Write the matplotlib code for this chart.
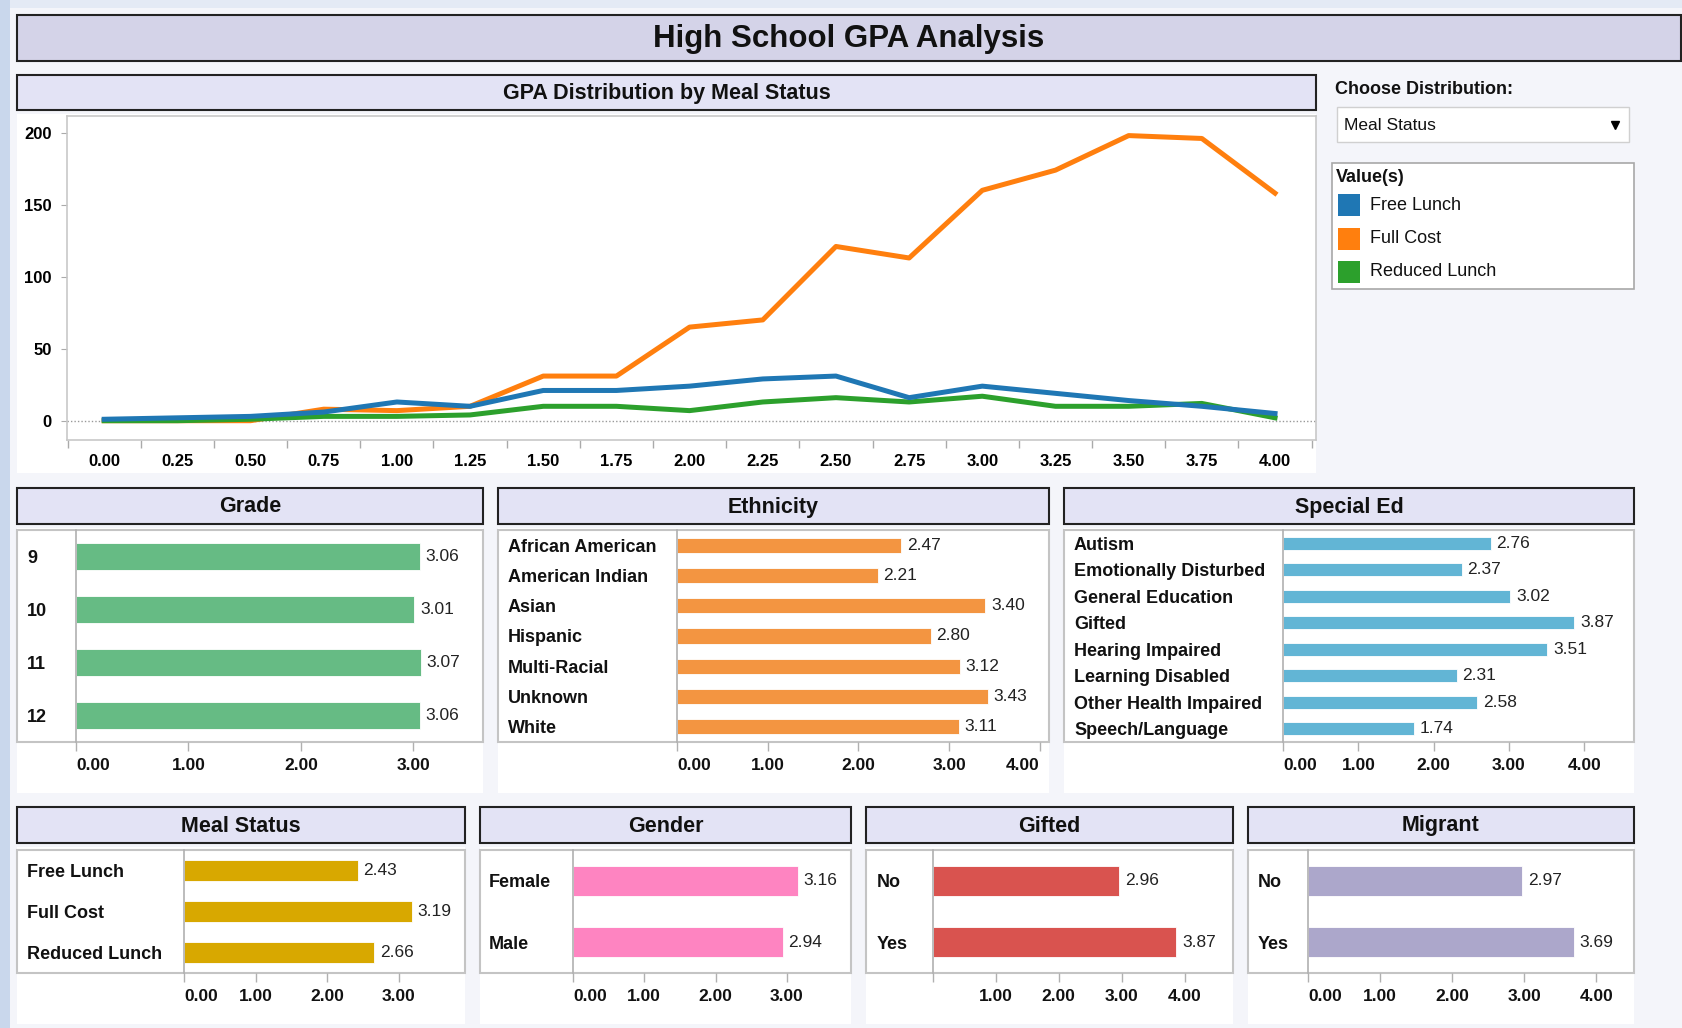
import matplotlib
matplotlib.use('Agg')
import matplotlib.pyplot as plt
from matplotlib.patches import Rectangle

plt.rcParams['font.family'] = ['Liberation Sans', 'DejaVu Sans']

W, H = 1683, 1028

# GPA distribution (counts of students per GPA bin)
gpa_bins = [0.00, 0.25, 0.50, 0.75, 1.00, 1.25, 1.50, 1.75, 2.00,
            2.25, 2.50, 2.75, 3.00, 3.25, 3.50, 3.75, 4.00]
free_lunch = [1, 2, 3, 6, 13, 10, 21, 21, 24, 29, 31, 16, 24, 19, 14, 10, 5]
full_cost = [0, 0, 0, 8, 7, 10, 31, 31, 65, 70, 121, 113, 160, 174, 198, 196, 158]
reduced_lunch = [0, 0, 1, 3, 3, 4, 10, 10, 7, 13, 16, 13, 17, 10, 10, 12, 2]
series_names = ['Free Lunch', 'Full Cost', 'Reduced Lunch']
series_colors = ['#1f77b4', '#ff7f0e', '#2ca02c']

# average GPA by group
grade_cats = ['9', '10', '11', '12']
grade_gpa = [3.06, 3.01, 3.07, 3.06]
eth_cats = ['African American', 'American Indian', 'Asian', 'Hispanic',
            'Multi-Racial', 'Unknown', 'White']
eth_gpa = [2.47, 2.21, 3.40, 2.80, 3.12, 3.43, 3.11]
sped_cats = ['Autism', 'Emotionally Disturbed', 'General Education', 'Gifted',
             'Hearing Impaired', 'Learning Disabled', 'Other Health Impaired',
             'Speech/Language']
sped_gpa = [2.76, 2.37, 3.02, 3.87, 3.51, 2.31, 2.58, 1.74]
meal_cats = ['Free Lunch', 'Full Cost', 'Reduced Lunch']
meal_gpa = [2.43, 3.19, 2.66]
gender_cats = ['Female', 'Male']
gender_gpa = [3.16, 2.94]
gifted_cats = ['No', 'Yes']
gifted_gpa = [2.96, 3.87]
migrant_cats = ['No', 'Yes']
migrant_gpa = [2.97, 3.69]

fig = plt.figure(figsize=(W / 100, H / 100), dpi=100, facecolor='#f4f5fa')
bg = fig.add_axes([0, 0, 1, 1])
bg.set_xlim(0, W)
bg.set_ylim(H, 0)
bg.axis('off')


def px_axes(x0, y0, x1, y1):
    return fig.add_axes([x0 / W, 1 - y1 / H, (x1 - x0) / W, (y1 - y0) / H])


def box(x0, y0, x1, y1, fc, ec='none', lw=0, z=1):
    bg.add_patch(Rectangle((x0, y0), x1 - x0, y1 - y0, facecolor=fc,
                           edgecolor=ec, linewidth=lw, zorder=z))


def header(x0, y0, x1, y1, text, fc='#e3e3f5', size=15.5):
    box(x0, y0, x1, y1, fc, '#222222', 1.5)
    bg.text((x0 + x1) / 2, (y0 + y1) / 2 + 1, text, ha='center', va='center',
            fontsize=size, fontweight='bold', color='#111111', zorder=3)


# window edges
box(0, 0, 10, H, '#c9d7ec')
box(10, 0, W, 8, '#e4eaf5')

header(17, 15, 1681, 61, 'High School GPA Analysis', fc='#d4d3e8', size=22.5)

# ---- line chart ----
box(17, 114, 1316, 473, 'white')
header(17, 75, 1316, 110, 'GPA Distribution by Meal Status')
ax = px_axes(67, 116, 1316, 440)
ax.set_facecolor('white')
ax.axhline(0, color='#999999', lw=1, ls=(0, (1, 1.5)), zorder=1)
ax.plot(gpa_bins, full_cost, color=series_colors[1], lw=3.6, zorder=3)
ax.plot(gpa_bins, reduced_lunch, color=series_colors[2], lw=3.6, zorder=3)
ax.plot(gpa_bins, free_lunch, color=series_colors[0], lw=3.6, zorder=4)
ax.set_xlim(-0.127, 4.14)
ax.set_ylim(-13.4, 211.6)
ax.set_xticks(gpa_bins)
ax.set_xticklabels([f'{b:.2f}' for b in gpa_bins], fontsize=12, fontweight='bold')
ax.set_xticks([b - 0.125 for b in gpa_bins] + [gpa_bins[-1] + 0.125], minor=True)
ax.tick_params(axis='x', which='major', length=0, pad=10)
ax.tick_params(axis='x', which='minor', length=6, color='#aaaaaa', width=1)
ax.set_yticks([0, 50, 100, 150, 200])
ax.set_yticklabels(['0', '50', '100', '150', '200'], fontsize=12, fontweight='bold')
ax.tick_params(axis='y', length=4, color='#aaaaaa', pad=7)
for s in ax.spines.values():
    s.set_color('#c8c8c8')
    s.set_linewidth(1.2)

# ---- selector and legend ----
bg.text(1335, 90, 'Choose Distribution:', fontsize=13, fontweight='bold',
        va='center', color='#111111')
box(1337, 107, 1629, 142, 'white', '#d0d0d0', 1)
bg.text(1344, 125, 'Meal Status', fontsize=12.5, va='center', color='#111111', zorder=3)
bg.plot([1615], [125], marker='v', color='black', ms=6, zorder=3)
box(1332, 163, 1634, 289, 'white', '#a8a8a8', 1.2)
bg.text(1336, 177, 'Value(s)', fontsize=13, fontweight='bold', va='center',
        color='#111111', zorder=3)
for i, (name, col) in enumerate(zip(series_names, series_colors)):
    yc = 205 + i * 33.5
    box(1338, yc - 11, 1360, yc + 11, col, z=3)
    bg.text(1370, yc, name, fontsize=13, va='center', color='#111111', zorder=3)

# ---- bar panels ----
row2 = dict(head=(488, 524), panel=(528, 793), plot=(530, 742))
row3 = dict(head=(807, 843), panel=(847, 1024), plot=(850, 973))


def bar_panel(name, cats, vals, color, row, x0, x1, label_x, plot_x0, xmax,
              ticks, bar_h=0.5, hide_zero=False, last_right=False):
    p0, p1 = row['panel']
    y0, y1 = row['plot']
    box(x0, p0, x1, p1, 'white')
    header(x0, row['head'][0], x1, row['head'][1], name)
    box(x0, y0, x1, y1, 'none', '#c4c4c4', 1.5, z=2)
    a = px_axes(plot_x0, y0, x1, y1)
    a.set_facecolor('none')
    n = len(cats)
    a.barh(range(n), vals, height=bar_h, color=color, edgecolor='white',
           linewidth=0.6, zorder=2)
    for i, v in enumerate(vals):
        a.annotate(f'{v:.2f}', (v, i), xytext=(4, 0), textcoords='offset points',
                   va='center', ha='left', fontsize=12.5, color='#222222')
    a.set_xlim(0, xmax)
    a.set_ylim(n - 0.5, -0.5)
    for k in ['top', 'right', 'bottom']:
        a.spines[k].set_visible(False)
    a.spines['left'].set_color('#b0b0b0')
    a.spines['left'].set_linewidth(1.2)
    a.set_yticks(range(n))
    a.set_yticklabels(cats, fontsize=13, fontweight='bold', ha='left', color='#111111')
    a.tick_params(axis='y', length=0, pad=(plot_x0 - label_x) * 0.72)
    a.set_xticks(ticks)
    labels = [f'{t:.2f}' for t in ticks]
    if hide_zero:
        labels[0] = ''
    a.set_xticklabels(labels, fontsize=12.5, fontweight='bold', color='#111111')
    a.tick_params(axis='x', direction='out', length=6.5, color='#b0b0b0',
                  width=1, pad=5)
    tl = a.get_xticklabels()
    if not hide_zero:
        tl[0].set_horizontalalignment('left')
    if last_right:
        tl[-1].set_horizontalalignment('right')
    return a


bar_panel('Grade', grade_cats, grade_gpa, '#66bb84', row2, 17, 483, 27, 76,
          3.62, [0, 1, 2, 3], bar_h=0.5)
bar_panel('Ethnicity', eth_cats, eth_gpa, '#f39541', row2, 498, 1049, 508, 677,
          4.10, [0, 1, 2, 3, 4], bar_h=0.5, last_right=True)
bar_panel('Special Ed', sped_cats, sped_gpa, '#62b5d5', row2, 1064, 1634, 1074,
          1283, 4.66, [0, 1, 2, 3, 4], bar_h=0.48)
bar_panel('Meal Status', meal_cats, meal_gpa, '#d8a800', row3, 17, 465, 27, 184,
          3.93, [0, 1, 2, 3], bar_h=0.5)
bar_panel('Gender', gender_cats, gender_gpa, '#fe84c1', row3, 480, 851, 489, 573,
          3.90, [0, 1, 2, 3], bar_h=0.48)
bar_panel('Gifted', gifted_cats, gifted_gpa, '#d9534f', row3, 866, 1233, 877, 933,
          4.77, [0, 1, 2, 3, 4], bar_h=0.48, hide_zero=True)
bar_panel('Migrant', migrant_cats, migrant_gpa, '#aca7cb', row3, 1248, 1634, 1258,
          1308, 4.52, [0, 1, 2, 3, 4], bar_h=0.48)

fig.savefig('out.png', dpi=100, facecolor=fig.get_facecolor())
